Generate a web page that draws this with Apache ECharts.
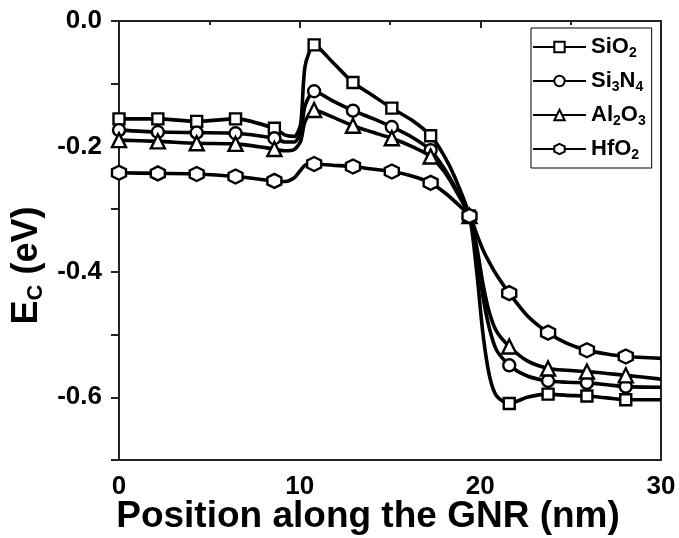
<!DOCTYPE html>
<html>
<head>
<meta charset="utf-8">
<script src="https://cdn.jsdelivr.net/npm/echarts@6/dist/echarts.min.js"></script>
<style>
html,body{margin:0;padding:0;background:#fff;}
#chart{width:679px;height:538px;}
</style>
</head>
<body>
<div id="chart"></div>
<script>
// Sample positions along the GNR (nm)
const positionNm = [0, 2.15, 4.3, 6.45, 8.6, 9.2, 9.7, 10.05, 10.3, 10.8, 11.8, 12.95, 14.0, 15.1, 16.2, 17.25, 18.0, 18.6, 19.4, 19.8, 20.15, 20.5, 20.9, 21.6, 22.6, 23.75, 24.8, 25.9, 27.0, 28.05, 30];
// Positions where a marker is drawn
const markerPositions = [0, 2.15, 4.3, 6.45, 8.6, 10.8, 12.95, 15.1, 17.25, 19.4, 21.6, 23.75, 25.9, 28.05];

const ecSiO2  = [-0.156, -0.156, -0.160, -0.156, -0.171, -0.182, -0.184, -0.165, -0.072, -0.038, -0.065, -0.098, -0.118, -0.139, -0.158, -0.183, -0.215, -0.250, -0.311, -0.400, -0.500, -0.565, -0.598, -0.610, -0.600, -0.595, -0.597, -0.598, -0.601, -0.604, -0.604];
const ecSi3N4 = [-0.174, -0.177, -0.178, -0.179, -0.187, -0.193, -0.193, -0.178, -0.135, -0.112, -0.127, -0.143, -0.155, -0.169, -0.185, -0.206, -0.235, -0.265, -0.311, -0.370, -0.440, -0.490, -0.525, -0.549, -0.566, -0.574, -0.576, -0.577, -0.580, -0.583, -0.584];
const ecAl2O3 = [-0.190, -0.192, -0.195, -0.196, -0.204, -0.207, -0.205, -0.192, -0.160, -0.142, -0.153, -0.167, -0.177, -0.187, -0.200, -0.216, -0.240, -0.268, -0.311, -0.360, -0.420, -0.465, -0.495, -0.519, -0.542, -0.554, -0.557, -0.559, -0.562, -0.565, -0.571];
const ecHfO2  = [-0.242, -0.243, -0.244, -0.248, -0.255, -0.256, -0.250, -0.238, -0.230, -0.228, -0.230, -0.232, -0.236, -0.240, -0.247, -0.258, -0.273, -0.288, -0.311, -0.340, -0.365, -0.385, -0.405, -0.434, -0.470, -0.497, -0.514, -0.525, -0.531, -0.535, -0.538];

const seriesNames = ['SiO2', 'Si3N4', 'Al2O3', 'HfO2'];
const seriesLabels = ['SiO{s|2}', 'Si{s|3}N{s|4}', 'Al{s|2}O{s|3}', 'HfO{s|2}'];
const xTicks = [0, 10, 20, 30];
const yTicks = [0, -0.2, -0.4, -0.6];

const FONT = '"Liberation Sans", Arial, sans-serif';
const hexagon = 'path://M0,-1 L0.866,-0.5 L0.866,0.5 L0,1 L-0.866,0.5 L-0.866,-0.5 Z';
const symbols = ['rect', 'circle', 'triangle', hexagon];
const symbolSizes = [11, 12, 14, 14];
const values = [ecSiO2, ecSi3N4, ecAl2O3, ecHfO2];

function isMarker(x) {
  return markerPositions.some(m => Math.abs(m - x) < 1e-6);
}

const series = seriesNames.map((name, i) => ({
  name: name,
  type: 'line',
  data: positionNm.map((x, k) => [x, values[i][k]]),
  smooth: 0.25,
  symbol: symbols[i],
  showAllSymbol: true,
  symbolSize: (val) => isMarker(val[0]) ? symbolSizes[i] : 0,
  lineStyle: { color: '#000', width: 3.6 },
  itemStyle: { color: '#fff', borderColor: '#000', borderWidth: 2.4 },
  emphasis: { disabled: true },
  z: 3 + i
}));

const chart = echarts.init(document.getElementById('chart'), null, { renderer: 'canvas' });
chart.setOption({
  animation: false,
  backgroundColor: '#fff',
  grid: {
    left: 119, right: 18, top: 21, bottom: 78,
    containLabel: false, outerBoundsMode: 'none',
    show: true, borderColor: '#222', borderWidth: 2, backgroundColor: 'transparent'
  },
  legend: {
    data: seriesNames,
    orient: 'vertical',
    left: 531, top: 28,
    padding: [6, 6, 6, 1],
    borderColor: '#000', borderWidth: 1,
    itemWidth: 53, itemHeight: 13, itemGap: 8,
    formatter: (name) => seriesLabels[seriesNames.indexOf(name)],
    textStyle: {
      fontFamily: FONT, fontWeight: 'bold', fontSize: 22, color: '#000', lineHeight: 26,
      rich: { s: { fontFamily: FONT, fontWeight: 'bold', fontSize: 14, color: '#000', padding: [12, 0, 0, 0] } }
    }
  },
  xAxis: {
    type: 'value', min: 0, max: 30, interval: 10,
    name: 'Position along the GNR (nm)',
    nameLocation: 'middle', nameGap: 38, nameMoveOverlap: false,
    nameTextStyle: { fontFamily: FONT, fontWeight: 'bold', fontSize: 37, color: '#000', padding: [0, 44, 0, 0] },
    axisLine: { lineStyle: { color: '#222', width: 2 } },
    axisTick: { show: true, inside: false, length: 7, lineStyle: { color: '#222', width: 2 } },
    minorTick: { show: true, splitNumber: 2, length: 4, lineStyle: { color: '#222', width: 2 } },
    splitLine: { show: false },
    axisLabel: {
      customValues: xTicks,
      margin: 14, fontFamily: FONT, fontWeight: 'bold', fontSize: 26, color: '#000',
      formatter: (v) => String(v)
    }
  },
  yAxis: {
    type: 'value', min: -0.7, max: 0, interval: 0.1,
    name: 'E{s|C} (eV)',
    nameLocation: 'middle', nameGap: 72, nameRotate: 90, nameMoveOverlap: false,
    nameTextStyle: {
      fontFamily: FONT, fontWeight: 'bold', fontSize: 36, color: '#000', padding: [0, 50, 0, 0],
      rich: { s: { fontFamily: FONT, fontWeight: 'bold', fontSize: 22, color: '#000', padding: [18, 0, 0, 0] } }
    },
    axisLine: { lineStyle: { color: '#222', width: 2 } },
    axisTick: { show: true, inside: false, length: 8, lineStyle: { color: '#222', width: 2 } },
    splitLine: { show: false },
    axisLabel: {
      customValues: yTicks,
      margin: 17, fontFamily: FONT, fontWeight: 'bold', fontSize: 26, color: '#000',
      formatter: (v) => v.toFixed(1)
    }
  },
  series: series
});
</script>
</body>
</html>
